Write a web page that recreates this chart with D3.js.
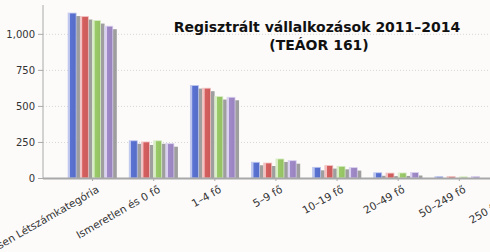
<!DOCTYPE html>
<html lang="hu">
<head>
    <meta charset="UTF-8">
    <title>Regisztrált vállalkozások 2011–2014</title>
    <script src="https://d3js.org/d3.v7.min.js"></script>
    <style>
        body { margin: 0; background: #fcfbfa; }
        text { font-family: "DejaVu Sans", Verdana, sans-serif; }
    </style>
</head>
<body>

<script>
    // Adatok
    const categories = ["Összesen Létszámkategória", "Ismeretlen és 0 fő", "1–4 fő", "5–9 fő",
        "10–19 fő", "20–49 fő", "50–249 fő", "250 fő felett"];
    const years = ["2011", "2012", "2013", "2014"];
    const v2011 = [1144, 258, 641, 109, 74, 36, 9, 2];
    const v2012 = [1120, 250, 623, 104, 86, 34, 10, 2];
    const v2013 = [1092, 258, 565, 132, 81, 35, 8, 2];
    const v2014 = [1053, 238, 560, 120, 72, 38, 10, 2];
    const yTicks = [0, 250, 500, 750, 1000];

    const series = [v2011, v2012, v2013, v2014];
    const colors = ["#5a72d2", "#d65f5f", "#9bcb68", "#a08ac8"];
    const lights = ["#bcc5ee", "#f2c2c2", "#d9edc6", "#dad0f0"];

    const width = 490, height = 252;

    const svg = d3.select("body").append("svg")
        .attr("width", width)
        .attr("height", height);

    svg.append("rect").attr("width", width).attr("height", height).attr("fill", "#fcfbfa");

    // Skálák
    const x = d3.scaleBand()
        .domain(categories)
        .range([62, 551])
        .paddingInner(0.2)
        .paddingOuter(0.1);

    const xs = d3.scaleBand()
        .domain(years)
        .range([0, x.bandwidth()]);

    const y = d3.scaleLinear()
        .domain([0, 1200])
        .range([178, 5]);

    const barW = 8;

    // Színátmenetek
    const defs = svg.append("defs");
    colors.forEach((c, i) => {
        const g = defs.append("linearGradient").attr("id", "grad" + i)
            .attr("x1", 0).attr("x2", 1).attr("y1", 0).attr("y2", 0);
        g.append("stop").attr("offset", "0%").attr("stop-color", lights[i]);
        g.append("stop").attr("offset", "22%").attr("stop-color", lights[i]);
        g.append("stop").attr("offset", "28%").attr("stop-color", c);
        g.append("stop").attr("offset", "100%").attr("stop-color", d3.color(c).darker(0.15));
    });

    // Rácsvonalak
    svg.append("g")
        .selectAll("line")
        .data(yTicks.filter(d => d > 0))
        .enter().append("line")
        .attr("x1", 43).attr("x2", width)
        .attr("y1", d => y(d) + 0.5).attr("y2", d => y(d) + 0.5)
        .attr("stroke", "#d6d6d6")
        .attr("stroke-dasharray", "1,2");

    // Oszlopok árnyékkal
    const plot = svg.append("g");
    series.forEach((vals, si) => {
        const grp = plot.append("g");
        grp.selectAll(".shadow")
            .data(vals)
            .enter().append("rect")
            .attr("x", (d, i) => x(categories[i]) + xs(years[si]) + 4)
            .attr("y", d => y(d) + 3)
            .attr("width", barW)
            .attr("height", d => Math.max(0, y(0) - y(d) - 3))
            .attr("fill", "#949494")
            .attr("opacity", 0.9);
        grp.selectAll(".bar")
            .data(vals)
            .enter().append("rect")
            .attr("x", (d, i) => x(categories[i]) + xs(years[si]))
            .attr("y", d => y(d))
            .attr("width", barW)
            .attr("height", d => y(0) - y(d))
            .attr("fill", "url(#grad" + si + ")")
            .attr("stroke", lights[si])
            .attr("stroke-width", 0.8);
    });

    // Tengelyek
    const yAxis = svg.append("g")
        .attr("transform", "translate(43,0)")
        .call(d3.axisLeft(y).tickValues(yTicks).tickSize(5).tickPadding(3).tickFormat(d3.format(",")));
    yAxis.select(".domain").attr("d", "M0," + y(1200) + "V" + y(0)).attr("stroke", "#aaa");
    yAxis.selectAll(".tick line").attr("stroke", "#aaa");
    yAxis.selectAll(".tick text")
        .attr("fill", "#333")
        .style("font-size", "10px")
        .style("font-family", "DejaVu Sans, sans-serif");

    const xAxis = svg.append("g")
        .attr("transform", "translate(0," + y(0) + ")")
        .call(d3.axisBottom(x).tickSize(3).tickSizeOuter(0));
    xAxis.select(".domain").attr("d", "M43,0.5H" + width).attr("stroke", "#a8a8a8").attr("stroke-width", 2);
    xAxis.selectAll(".tick line").attr("stroke", "#aaa");
    xAxis.selectAll(".tick text")
        .attr("fill", "#333")
        .style("font-size", "10.5px")
        .style("font-family", "DejaVu Sans, sans-serif")
        .attr("text-anchor", "end")
        .attr("dy", "0.8em")
        .attr("y", 7)
        .attr("x", -0.5)
        .attr("transform", "rotate(-30)");

    // Cím
    const title = svg.append("text")
        .attr("x", 317)
        .attr("y", 32)
        .attr("text-anchor", "middle")
        .style("font-size", "14px")
        .style("font-weight", "bold")
        .attr("fill", "#111");
    title.append("tspan").attr("x", 317).text("Regisztrált vállalkozások 2011–2014");
    title.append("tspan").attr("x", 319).attr("dy", 18).text("(TEÁOR 161)");
</script>
</body>
</html>
